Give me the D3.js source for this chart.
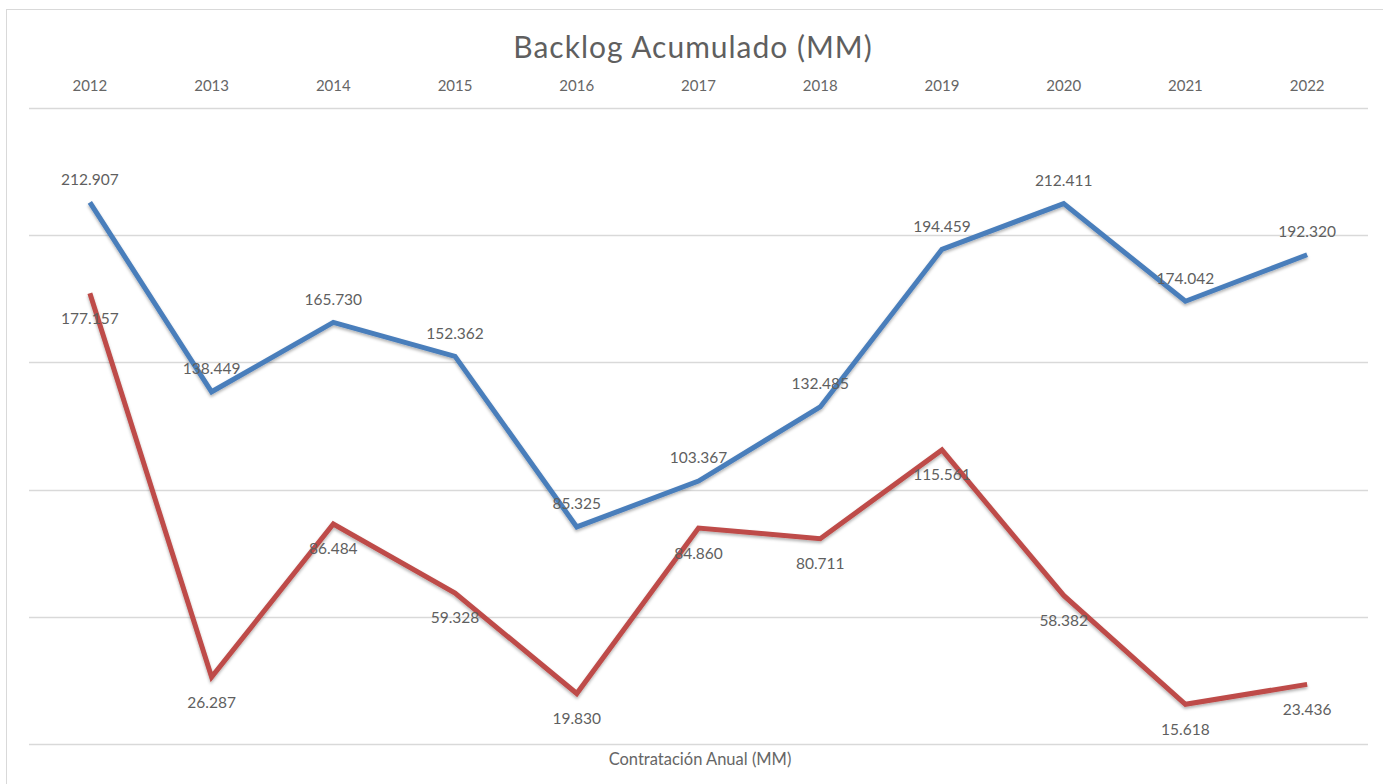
<!DOCTYPE html>
<html>
<head>
<meta charset="UTF-8">
<title>Backlog Acumulado (MM)</title>
<script src="https://cdn.jsdelivr.net/npm/d3@7"></script>
<style>
  body { margin: 0; background: #fff; }
  text { font-family: Lato, "Open Sans", sans-serif; fill: #5f5f5f; }
</style>
</head>
<body>
<div class="container"></div>
<script>
var years = ["2012","2013","2014","2015","2016","2017","2018","2019","2020","2021","2022"];
var backlog = [212.907, 138.449, 165.730, 152.362, 85.325, 103.367, 132.485, 194.459, 212.411, 174.042, 192.320];
var contratacion = [177.157, 26.287, 86.484, 59.328, 19.830, 84.860, 80.711, 115.561, 58.382, 15.618, 23.436];
var yTicks = [0, 50, 100, 150, 200, 250];

var width = 1383, height = 784;
var plotLeft = 29, plotRight = 1368, plotTop = 108, plotBottom = 744;

var svg = d3.select(".container").append("svg")
    .attr("width", width)
    .attr("height", height);

// outer frame
svg.append("rect")
    .attr("x", 6.5).attr("y", 9.5)
    .attr("width", width).attr("height", height)
    .attr("fill", "none")
    .attr("stroke", "#d9d9d9");

var x = d3.scaleBand().domain(years).range([plotLeft, plotRight]);
var y = d3.scaleLinear().domain([0, 250]).range([plotBottom, plotTop]);
var cx = function(d) { return x(d) + x.bandwidth() / 2; };

// shadow for lines
var defs = svg.append("defs");
var f = defs.append("filter").attr("id", "shadow")
    .attr("x", "-5%").attr("y", "-5%").attr("width", "110%").attr("height", "120%");
f.append("feDropShadow").attr("dx", 0).attr("dy", 2).attr("stdDeviation", 1.5)
    .attr("flood-color", "#000").attr("flood-opacity", 0.3);

// gridlines
svg.append("g").selectAll("line")
    .data(yTicks).enter().append("line")
    .attr("x1", plotLeft).attr("x2", plotRight)
    .attr("y1", function(d) { return Math.round(y(d)) + 0.5; })
    .attr("y2", function(d) { return Math.round(y(d)) + 0.5; })
    .attr("stroke", "#d9d9d9")
    .attr("stroke-width", 1.3);

// top category axis
var xAxis = svg.append("g")
    .attr("transform", "translate(0," + 86 + ")")
    .call(d3.axisTop(x).tickSize(0).tickPadding(0));
xAxis.select(".domain").remove();
xAxis.selectAll("text")
    .attr("dy", "0.35em")
    .style("font-size", "15px")
    .style("fill", "#666")
    .style("font-family", "Lato, 'Open Sans', sans-serif");

// title
svg.append("text")
    .attr("x", 693).attr("y", 47)
    .attr("text-anchor", "middle")
    .attr("dy", "0.35em")
    .style("font-size", "30px")
    .style("letter-spacing", "1px")
    .text("Backlog Acumulado (MM)");

// bottom label
svg.append("text")
    .attr("x", 700).attr("y", 759)
    .attr("text-anchor", "middle")
    .attr("dy", "0.35em")
    .style("font-size", "16.5px")
    .style("fill", "#666")
    .text("Contratación Anual (MM)");

var series = [
    { name: "Backlog", values: backlog, color: "#4a7ebb", offset: -23 },
    { name: "Contratacion", values: contratacion, color: "#be4b48", offset: 25 }
];

var line = d3.line()
    .x(function(d, i) { return cx(years[i]); })
    .y(function(d) { return y(d); });

series.forEach(function(s) {
    svg.append("path")
        .datum(s.values)
        .attr("d", line)
        .attr("fill", "none")
        .attr("stroke", s.color)
        .attr("stroke-width", 5)
        .attr("stroke-linejoin", "miter")
        .attr("filter", "url(#shadow)");
});

var fmt = function(v) { return d3.format(".3f")(v); };

series.forEach(function(s) {
    svg.append("g").selectAll("text")
        .data(s.values).enter().append("text")
        .attr("x", function(d, i) { return cx(years[i]); })
        .attr("y", function(d) { return y(d) + s.offset; })
        .attr("dy", "0.35em")
        .attr("text-anchor", "middle")
        .style("font-size", "15.5px")
        .text(fmt);
});
</script>
</body>
</html>
